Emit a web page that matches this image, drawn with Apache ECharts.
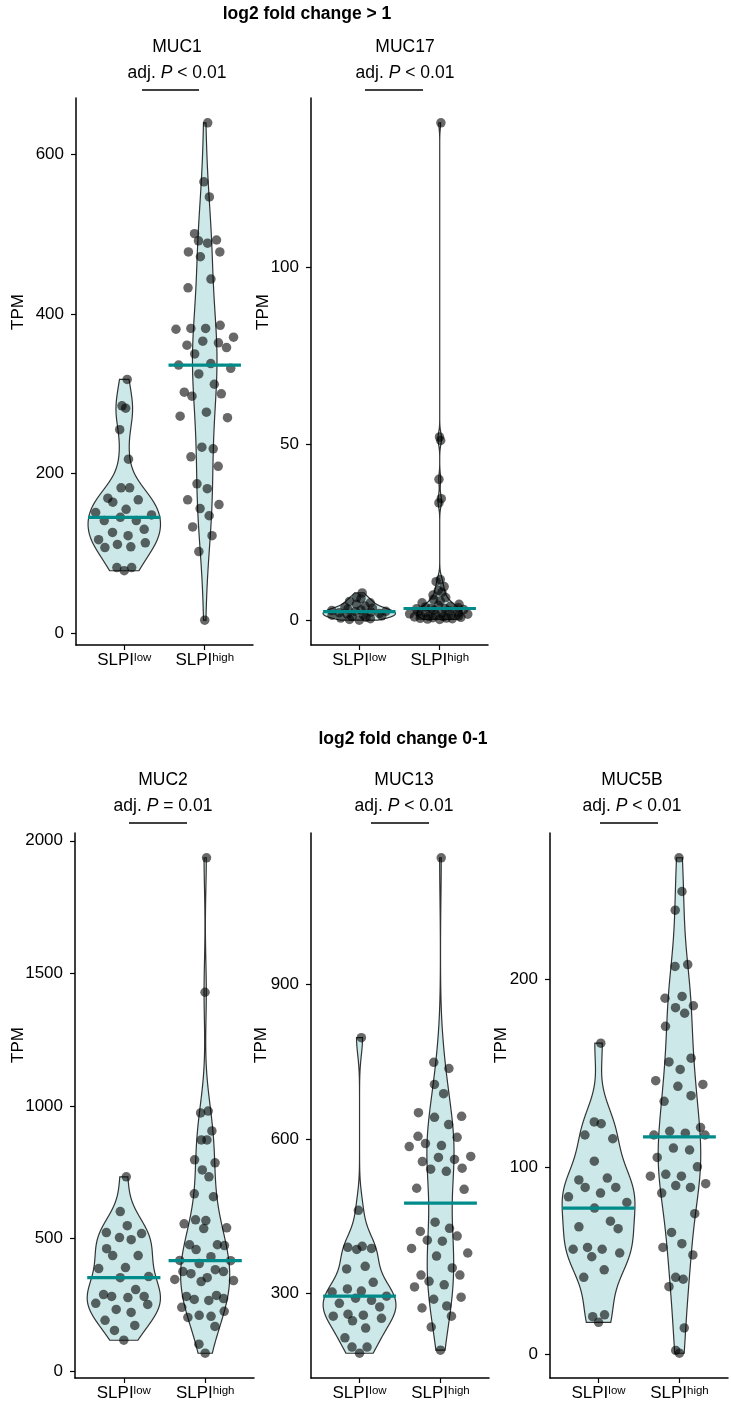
<!DOCTYPE html>
<html>
<head>
<meta charset="utf-8">
<script src="https://cdn.jsdelivr.net/npm/echarts@6/dist/echarts.min.js"></script>
<style>
  html, body { margin: 0; background: #fff; }
  #chart { width: 731px; height: 1409px; }
</style>
</head>
<body>
<div id="chart"></div>
<script>
// values (TPM), SLPI low / SLPI high per gene
const genes = ["MUC1", "MUC17", "MUC2", "MUC13", "MUC5B"];
const pValues = ["< 0.01", "< 0.01", "= 0.01", "< 0.01", "< 0.01"];
const groupSup = ["low", "high"];
const sectionTitles = ["log2 fold change > 1", "log2 fold change 0-1"];

const muc1Low = [318, 285, 282, 255, 218, 182, 182, 169, 164, 167, 151, 155, 148, 141, 145, 141, 130, 126, 122, 117, 113, 107, 111, 108, 82, 78, 82];
const muc1High = [640, 566, 547, 501, 492, 489, 493, 478, 478, 472, 444, 433, 381, 382, 382, 386, 371, 361, 366, 364, 358, 350, 336, 338, 332, 325, 312, 302, 297, 300, 277, 272, 270, 233, 231, 221, 209, 187, 181, 167, 161, 156, 147, 133, 122, 102, 16];
const muc17Low = [7.8, 6.5, 6.2, 5.4, 5.0, 4.6, 4.1, 3.8, 3.5, 3.2, 3.0, 2.8, 2.6, 2.5, 2.4, 2.2, 2.0, 1.8, 1.6, 1.5, 1.3, 1.1, 0.9, 0.7, 0.5, 0.3, 0.1];
const muc17High = [141, 52, 51, 40, 34.5, 33.3, 11.6, 11, 9.6, 8.5, 8, 7.2, 6.5, 6, 5.5, 5, 4.6, 4.3, 4, 3.8, 3.6, 3.5, 3.4, 3.3, 3.1, 2.9, 2.7, 2.5, 2.3, 2.2, 2.0, 1.9, 1.8, 1.6, 1.5, 1.4, 1.3, 1.2, 1.1, 1.0, 0.9, 0.8, 0.7, 0.6, 0.5, 0.4, 0.3];
const muc2Low = [733, 602, 549, 523, 504, 496, 519, 462, 436, 436, 387, 391, 353, 357, 308, 289, 282, 278, 282, 256, 252, 233, 222, 192, 173, 154, 117];
const muc2High = [1936, 1429, 974, 981, 906, 872, 872, 797, 786, 759, 733, 669, 658, 556, 571, 568, 541, 538, 474, 477, 477, 459, 432, 418, 417, 406, 376, 383, 376, 368, 342, 353, 346, 338, 274, 286, 267, 282, 271, 241, 226, 203, 211, 207, 169, 102, 68];
const muc13Low = [797, 461, 389, 385, 391, 387, 347, 352, 321, 302, 308, 304, 290, 294, 286, 280, 273, 255, 259, 246, 257, 251, 232, 213, 195, 195, 183];
const muc13High = [1147, 749, 737, 706, 688, 642, 651, 644, 628, 591, 585, 605, 603, 587, 564, 566, 560, 556, 541, 543, 537, 504, 502, 438, 426, 420, 411, 403, 401, 387, 372, 378, 349, 335, 335, 323, 316, 312, 292, 288, 271, 275, 255, 234, 189];
const muc5bLow = [166, 124, 123, 117, 115, 103, 93, 94, 89, 89, 86, 84, 81, 78, 71, 68, 67, 56, 57, 56, 54, 52, 45, 41, 20, 21, 17];
const muc5bHigh = [265, 247, 237, 208, 207, 191, 190, 186, 185, 182, 175, 158, 156, 152, 144, 146, 143, 138, 135, 121, 118, 117, 119, 117, 110, 109, 105, 100, 95, 96, 95, 90, 89, 91, 86, 75, 65, 57, 59, 53, 41, 40, 36, 14, 2, 0.5];

// median lines as drawn
const muc1Median = [145, 336];
const muc17Median = [2.5, 3.4];
const muc2Median = [353, 417];
const muc13Median = [294, 475];
const muc5bMedian = [78, 116];

// y tick labels
const muc1Ticks = [0, 200, 400, 600];
const muc17Ticks = [0, 50, 100];
const muc2Ticks = [0, 500, 1000, 1500, 2000];
const muc13Ticks = [300, 600, 900];
const muc5bTicks = [0, 100, 200];

// layout: grid [left, top, width, height], title centre x, bracket, TPM label position
const panels = [
  { low: muc1Low, high: muc1High, median: muc1Median, ticks: muc1Ticks, grid: [76, 98, 177, 547], tx: 177, bracket: [142, 199], tpm: [18, 312], row: 0 },
  { low: muc17Low, high: muc17High, median: muc17Median, ticks: muc17Ticks, grid: [311, 98, 177, 547], tx: 405, bracket: [365, 423], tpm: [263, 312], row: 0 },
  { low: muc2Low, high: muc2High, median: muc2Median, ticks: muc2Ticks, grid: [75, 833, 179, 545], tx: 163, bracket: [129, 187], tpm: [18, 1045], row: 1 },
  { low: muc13Low, high: muc13High, median: muc13Median, ticks: muc13Ticks, grid: [311, 833, 178, 545], tx: 404, bracket: [371, 429], tpm: [261, 1045], row: 1 },
  { low: muc5bLow, high: muc5bHigh, median: muc5bMedian, ticks: muc5bTicks, grid: [550, 833, 178, 545], tx: 632, bracket: [600, 658], tpm: [501, 1045], row: 1 },
];
const rows = [
  { section: [307, 14], name: 47, p: 73, bracket: 90 },
  { section: [403, 739], name: 780, p: 806, bracket: 823 },
];

const FONT = '"Liberation Sans", Arial, Helvetica, sans-serif';
const FILL = "rgba(0,139,139,0.2)";
const TEAL = "#008b8b";

// gaussian kde with bw.nrd0
function makeKde(vals) {
  const v = vals.slice().sort((a, b) => a - b);
  const n = v.length;
  const mean = v.reduce((s, x) => s + x, 0) / n;
  const sd = Math.sqrt(v.reduce((s, x) => s + (x - mean) * (x - mean), 0) / (n - 1));
  const q = (p) => {
    const h = (n - 1) * p, i = Math.floor(h);
    return v[i] + (h - i) * (v[Math.min(i + 1, n - 1)] - v[i]);
  };
  let lo = Math.min(sd, (q(0.75) - q(0.25)) / 1.34);
  if (!(lo > 0)) lo = sd || 1;
  const bw = 0.9 * lo * Math.pow(n, -0.2);
  const f = (y) => {
    let d = 0;
    for (const x of v) { const z = (y - x) / bw; d += Math.exp(-0.5 * z * z); }
    return d / (n * bw * Math.sqrt(2 * Math.PI));
  };
  // trimmed to the data range, like geom_violin
  const ys = [], ds = [];
  for (let j = 0; j < 512; j++) {
    const y = v[0] + (v[n - 1] - v[0]) * j / 511;
    ys.push(y);
    ds.push(f(y));
  }
  return { f, ys, ds, max: Math.max(...ds) };
}

// van der Corput, base 2
function vdc(k) {
  let q = 0, b = 0.5;
  while (k > 0) { if (k & 1) q += b; k >>= 1; b /= 2; }
  return q;
}

// quasirandom offsets (as ggbeeswarm): spread follows the group's density
function quasiOffsets(vals, dens) {
  const order = vals.map((v, i) => i).sort((a, b) => vals[a] - vals[b] || a - b);
  const off = new Array(vals.length);
  order.forEach((idx, r) => {
    off[idx] = (vdc(r + 1) * 2 - 1) * 0.4 * dens.f(vals[idx]) / dens.max;
  });
  return off;
}

const grid = [], xAxis = [], yAxis = [], series = [], graphic = [];

panels.forEach((p, k) => {
  const groups = [p.low, p.high];
  const all = p.low.concat(p.high);
  const dmin = Math.min(...all), dmax = Math.max(...all);
  const pad = (dmax - dmin) * 0.05;

  grid.push({ left: p.grid[0], top: p.grid[1], width: p.grid[2], height: p.grid[3] });

  xAxis.push({
    gridIndex: k, type: "value", min: 0.4, max: 2.6,
    axisLine: { onZero: false, lineStyle: { color: "#000", width: 1.5 } },
    axisTick: { customValues: [1, 2], length: 5, lineStyle: { color: "#000", width: 1.2 } },
    axisLabel: {
      customValues: [1, 2], margin: 7,
      formatter: (val) => "{n|SLPI}{s|" + groupSup[Math.round(val) - 1] + "}",
      rich: {
        n: { fontSize: 17, color: "#000", fontFamily: FONT },
        s: { fontSize: 11.5, color: "#000", fontFamily: FONT, verticalAlign: "top" },
      },
    },
    splitLine: { show: false },
  });

  yAxis.push({
    gridIndex: k, type: "value", min: dmin - pad, max: dmax + pad,
    axisLine: { show: true, onZero: false, lineStyle: { color: "#000", width: 1.5 } },
    axisTick: { show: true, customValues: p.ticks, length: 5, lineStyle: { color: "#000", width: 1.2 } },
    axisLabel: {
      customValues: p.ticks, margin: 12, fontSize: 17, color: "#000", fontFamily: FONT,
      formatter: (v) => String(v),
    },
    splitLine: { show: false },
  });

  // violins, area scaled within panel
  const dens = groups.map(makeKde);
  const maxD = Math.max(...dens.map((d) => d.max));
  series.push({
    type: "custom", xAxisIndex: k, yAxisIndex: k, z: 1, silent: true,
    data: [[0], [1]],
    renderItem: (params, api) => {
      const g = api.value(0);
      const d = dens[g];
      const left = [], right = [];
      d.ys.forEach((y, j) => {
        const w = 0.45 * d.ds[j] / maxD;
        left.push(api.coord([g + 1 - w, y]));
        right.push(api.coord([g + 1 + w, y]));
      });
      return {
        type: "polygon",
        shape: { points: left.concat(right.reverse()) },
        style: { fill: FILL, stroke: "#333", lineWidth: 1.2 },
      };
    },
  });

  // quasirandom points
  series.push({
    type: "scatter", xAxisIndex: k, yAxisIndex: k, z: 2, silent: true,
    symbolSize: 9.5,
    itemStyle: { color: "rgba(0,0,0,0.74)" },
    data: groups.flatMap((vals, g) => {
      const off = quasiOffsets(vals, dens[g]);
      return vals.map((v, i) => [g + 1 + off[i], v]);
    }),
  });

  // median bars
  series.push({
    type: "custom", xAxisIndex: k, yAxisIndex: k, z: 3, silent: true,
    data: p.median.map((m, g) => [g + 1, m]),
    renderItem: (params, api) => {
      const x = api.value(0), m = api.value(1);
      const a = api.coord([x - 0.45, m]), b = api.coord([x + 0.45, m]);
      return {
        type: "line",
        shape: { x1: a[0], y1: a[1], x2: b[0], y2: b[1] },
        style: { stroke: TEAL, lineWidth: 3.2 },
      };
    },
  });

  const r = rows[p.row];
  graphic.push(
    {
      type: "text", x: p.tx, y: r.name,
      style: { text: genes[k], fontSize: 17.5, fontFamily: FONT, fill: "#000", align: "center", verticalAlign: "middle", textAlign: "center", textVerticalAlign: "middle" },
    },
    {
      type: "text", x: p.tx, y: r.p,
      style: {
        text: "{n|adj. }{i|P}{n| " + pValues[k] + "}",
        fontSize: 17.5, fontFamily: FONT, fill: "#000",
        align: "center", verticalAlign: "middle", textAlign: "center", textVerticalAlign: "middle",
        rich: {
          n: { fontSize: 17.5, fontFamily: FONT, fill: "#000" },
          i: { fontSize: 17.5, fontFamily: FONT, fontStyle: "italic", fill: "#000" },
        },
      },
    },
    {
      type: "line",
      shape: { x1: p.bracket[0], y1: r.bracket, x2: p.bracket[1], y2: r.bracket },
      style: { stroke: "#000", lineWidth: 1.5 },
    },
    {
      type: "text", x: p.tpm[0], y: p.tpm[1], rotation: Math.PI / 2,
      style: { text: "TPM", fontSize: 17, fontFamily: FONT, fill: "#000", align: "center", verticalAlign: "middle", textAlign: "center", textVerticalAlign: "middle" },
    }
  );
});

rows.forEach((r, i) => {
  graphic.push({
    type: "text", x: r.section[0], y: r.section[1],
    style: { text: sectionTitles[i], fontSize: 17.5, fontWeight: "bold", fontFamily: FONT, fill: "#000", align: "center", verticalAlign: "middle", textAlign: "center", textVerticalAlign: "middle" },
  });
});

const chart = echarts.init(document.getElementById("chart"), null, { renderer: "canvas" });
chart.setOption({
  animation: false,
  backgroundColor: "#fff",
  grid, xAxis, yAxis, series, graphic,
});
window.addEventListener("resize", () => chart.resize());
</script>
</body>
</html>
